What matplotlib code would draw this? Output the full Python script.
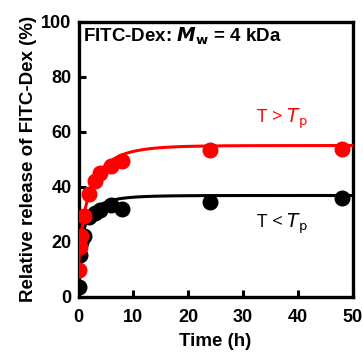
import numpy as np
import matplotlib
matplotlib.use("Agg")
import matplotlib.pyplot as plt

plt.rcParams['font.family'] = ['Liberation Sans', 'DejaVu Sans']

time_h = [0, 0.25, 0.5, 1, 2, 3, 4, 6, 8, 24, 48]
release_above = [9.5, 18, 22, 29.5, 37.5, 42, 45, 47.5, 49.5, 53.2, 53.7]
release_below = [3.5, 15, 20, 22, 29, 30.5, 31.5, 33.3, 32, 34.6, 36]

# stretched-exponential fit parameters (ymax, y0, tau, beta)
fit_above = (55.0, 8.0, 2.0, 0.7)
fit_below = (36.8, 3.0, 1.0, 0.6)

x_ticks = [0, 10, 20, 30, 40, 50]
y_ticks = [0, 20, 40, 60, 80, 100]


def model(t, p):
    ymax, y0, tau, beta = p
    return ymax - (ymax - y0) * np.exp(-(t / tau) ** beta)


fig = plt.figure(figsize=(3.63, 3.58), dpi=100)
ax = fig.add_axes([78.5 / 363, 1 - 296.5 / 358, 274 / 363, 274.5 / 358])

tt = np.linspace(0, 50, 600)
ax.plot(tt, model(tt, fit_below), color='black', lw=2.2, zorder=2)
ax.plot(time_h, release_below, 'o', color='black', ms=10.5, zorder=3)
ax.plot(tt, model(tt, fit_above), color='#ff0000', lw=2.2, zorder=4)
ax.plot(time_h, release_above, 'o', color='#ff0000', ms=10.5, zorder=5)

ax.set_xlim(0, 50)
ax.set_ylim(0, 100)
ax.set_xticks(x_ticks)
ax.set_yticks(y_ticks)
ax.tick_params(direction='in', length=5, width=2.2, labelsize=13)
ax.tick_params(axis='x', pad=9)
ax.tick_params(axis='y', pad=5)
for lab in ax.get_xticklabels() + ax.get_yticklabels():
    lab.set_fontweight('bold')
for s in ax.spines.values():
    s.set_linewidth(2.4)

ax.set_xlabel('Time (h)', fontsize=13.5, fontweight='bold', labelpad=5)
ax.set_ylabel('Relative release of FITC-Dex (%)', fontsize=13.5, fontweight='bold', labelpad=3)

ax.text(0.015, 0.985, r'FITC-Dex: $\boldsymbol{M}_{\mathbf{w}}$ = 4 kDa', transform=ax.transAxes,
        fontsize=13.5, fontweight='bold', va='top', ha='left')
ax.text(0.741, 0.649, r'T > $\mathit{T}_{\mathrm{p}}$', transform=ax.transAxes, color='#ff0000',
        fontsize=13.5, ha='center', va='center', family=['Open Sans', 'DejaVu Sans'])
ax.text(0.741, 0.264, r'T < $\mathit{T}_{\mathrm{p}}$', transform=ax.transAxes, color='black',
        fontsize=13.5, ha='center', va='center', family=['Open Sans', 'DejaVu Sans'])

fig.savefig('out.png', dpi=100)
